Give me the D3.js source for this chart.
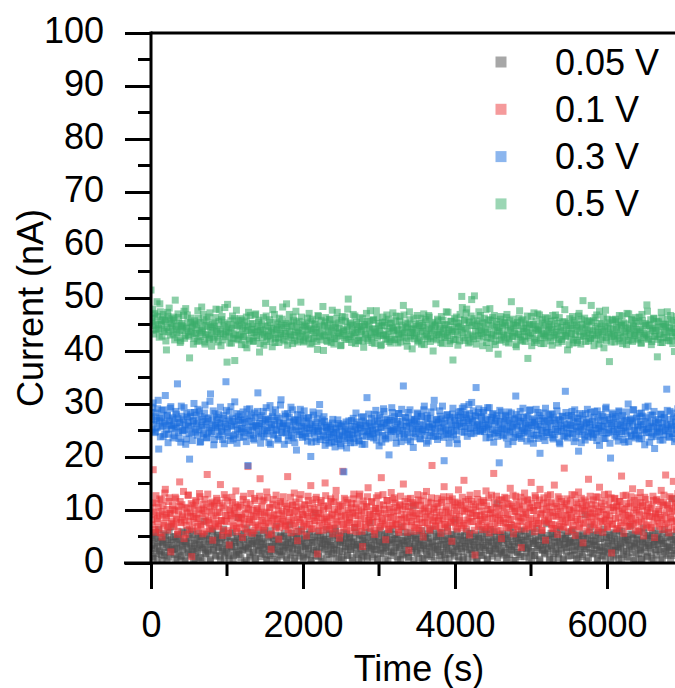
<!DOCTYPE html>
<html><head><meta charset="utf-8">
<script src="https://cdn.jsdelivr.net/npm/d3@7"></script>
<style>body{margin:0;background:#fff}svg{display:block}text{font-family:"Liberation Sans",Arial,sans-serif;fill:#000}</style>
</head><body>
<svg id="c" width="675" height="688"></svg>
<script>
// sampling: pass A every 14.5 s from 0 s, pass B every 14.5 s from 7.25 s
const timeStartA = 0, timeStartB = 7.25, timeStep = 14.5;
const seriesNames = ["0.05 V","0.1 V","0.3 V","0.5 V"];
const seriesColors = ["#505050","#ec3538","#1a6ddd","#38ad69"];
const xTicks = [0,2000,4000,6000];
const xMinor = [1000,3000,5000];
const yTicks = [0,10,20,30,40,50,60,70,80,90,100];
const yMinor = [5,15,25,35,45,55,65,75,85,95];

const current005 = [
2.4,4.8,0.9,3.6,5.7,1.8,3.1,6.3,2.2,4.1,0.5,3.8,1.4,5.2,2.9,4.4,1.1,3.3,6.8,2.6,
3.9,1.6,5.0,2.8,0.7,4.6,3.4,1.2,5.9,2.5,4.0,0.3,3.7,6.1,2.0,4.7,1.5,3.2,5.4,2.7,
0.8,4.3,2.3,5.6,3.5,1.0,4.9,2.6,7.9,3.0,1.7,5.1,2.1,4.5,0.4,3.6,6.0,2.4,4.2,1.3,
5.3,2.9,3.8,0.6,4.8,2.2,6.4,1.9,3.4,5.0,2.7,0.9,4.1,3.1,5.8,1.4,3.9,2.0,4.6,8.6,
1.6,3.3,5.5,2.5,4.4,0.2,3.0,6.6,2.8,4.0,1.1,5.2,3.6,2.1,4.7,0.8,3.9,5.7,2.4,3.2,
4.5,1.8,3.7,6.2,2.6,0.5,4.9,3.1,1.4,5.3,2.9,4.2,0.7,3.5,6.9,2.3,4.0,1.6,5.1,3.0,
2.2,5.6,3.4,1.0,4.6,2.8,7.2,3.8,1.9,5.0,0.4,3.3,4.8,2.5,6.0,1.3,4.1,3.6,0.9,5.4,
3.1,1.5,4.7,2.7,5.9,0.6,3.9,2.0,4.3,9.4,2.4,5.1,1.2,3.7,4.9,2.9,0.3,4.4,3.2,6.3,
4.0,2.1,5.5,3.3,1.7,4.8,2.6,6.5,0.8,3.5,5.2,2.3,4.1,1.0,3.8,5.7,2.7,4.5,1.4,3.0,
5.0,2.5,3.9,0.5,4.6,6.7,2.9,3.4,1.6,5.3,3.1,0.9,4.2,2.2,5.8,3.6,1.3,4.9,2.8,7.6,
3.7,1.1,4.4,2.6,5.6,3.2,0.7,4.0,6.2,2.4,3.9,1.8,5.1,2.9,4.7,0.4,3.5,5.9,2.1,4.3,
1.9,5.4,3.0,4.6,0.6,3.8,2.5,6.8,1.5,4.2,3.3,5.0,2.0,4.8,1.2,3.6,5.7,2.7,10.8,3.1,
4.5,2.3,5.2,1.0,3.9,2.8,6.1,3.4,0.8,4.7,2.2,5.5,3.7,1.6,4.1,2.9,6.4,0.5,3.2,5.0,
2.6,4.9,1.4,3.5,5.8,2.1,4.3,0.9,3.0,6.6,2.4,4.6,1.7,3.8,5.3,2.0,8.1,3.3,4.4,1.2,
3.6,5.1,2.7,0.6,4.2,3.1,6.0,1.9,4.8,2.5,3.9,5.6,1.1,3.4,4.5,2.2,0.3,5.3,3.0,4.0,
1.5,4.7,2.9,5.9,3.3,0.8,4.1,2.3,6.3,3.7,1.3,5.0,2.6,4.4,11.2,3.2,1.8,4.9,2.4,5.5,
3.8,2.0,4.6,1.0,5.4,3.0,6.7,2.5,4.0,0.5,3.5,5.2,2.1,4.8,1.6,3.9,6.1,2.8,4.3,1.2,
5.0,2.7,3.4,0.9,4.5,2.2,5.8,3.7,1.4,4.2,6.5,2.9,3.3,0.4,5.1,2.4,4.7,1.9,3.6,7.4,
2.3,4.4,1.1,5.6,3.2,0.7,4.9,2.6,6.0,3.9,1.7,4.1,2.8,5.3,0.6,3.5,4.6,2.1,5.7,3.0,
4.3,1.4,3.8,6.2,2.5,4.7,0.8,3.3,5.1,2.0,4.0,1.6,5.5,3.1,9.1,2.7,4.5,1.0,3.6,6.8,
2.9,5.2,1.8,4.1,3.4,0.5,5.8,2.3,4.6,3.0,1.3,6.4,2.6,4.9,1.9,3.7,5.4,0.7,4.2,2.4,
5.7,3.1,1.5,4.4,2.8,6.1,3.5,0.9,4.8,2.2,5.0,3.9,1.2,4.3,2.6,7.0,3.2,5.3,0.4,3.8,
1.7,4.5,3.0,5.9,2.4,0.8,4.0,6.6,2.9,3.6,1.1,5.2,3.3,4.7,2.0,5.6,0.6,3.9,2.5,4.6,
3.4,5.5,2.1,4.2,0.9,3.7,6.3,2.7,4.8,1.4,3.1,5.0,2.3,12.1,4.4,1.8,3.8,5.9,2.6,4.1];
const current005b = [
3.3,1.2,4.6,2.7,5.1,0.8,3.9,2.3,4.8,1.6,3.5,5.5,2.0,4.2,0.6,3.0,5.8,1.9,4.4,2.5,
4.9,2.6,0.9,3.8,5.3,2.1,4.4,1.4,3.2,5.7,0.5,4.0,2.8,1.7,4.7,3.4,6.0,2.2,0.8,3.7,
2.0,4.6,3.3,1.1,5.0,2.9,0.4,4.3,3.6,1.8,5.4,2.4,4.1,0.7,3.5,6.2,2.6,4.8,1.5,3.9,
5.2,3.0,1.3,4.5,2.5,5.9,0.9,3.7,2.2,4.9,1.4,3.4,5.6,2.8,0.6,4.2,3.1,1.7,5.0,2.3,
3.8,1.0,4.7,2.4,5.5,3.2,0.5,4.4,2.7,1.5,5.8,3.6,2.0,4.1,0.8,3.3,5.3,2.5,4.6,1.2,
4.0,2.9,5.7,1.6,3.5,0.7,4.8,2.2,6.1,3.1,1.8,4.5,2.6,5.2,0.4,3.8,2.1,4.9,1.3,3.4,
5.1,2.4,3.9,0.6,4.3,3.0,1.5,5.6,2.7,4.1,0.9,3.6,5.0,1.9,4.6,2.3,6.3,3.2,1.1,4.4,
2.8,4.7,1.7,3.3,5.4,0.5,3.9,2.5,4.9,1.4,3.0,5.9,2.1,4.2,0.8,3.6,5.1,2.6,4.5,1.6,
3.5,0.7,4.1,2.9,5.3,1.9,3.4,6.0,2.4,4.6,1.1,3.8,5.0,2.2,0.6,4.3,3.1,5.5,1.5,3.7,
4.8,2.6,1.0,4.0,3.2,5.7,1.8,3.5,0.5,4.5,2.7,5.2,1.3,3.9,2.1,4.7,0.9,3.3,5.9,2.4,
3.0,5.0,1.6,4.3,2.5,0.8,4.9,3.6,1.9,5.4,2.8,4.1,0.6,3.2,5.6,2.2,4.4,1.4,3.8,6.4,
2.3,4.6,3.4,1.2,5.3,2.9,0.7,4.2,3.7,1.7,5.8,2.6,4.0,1.0,3.5,5.1,2.0,4.8,0.5,3.1,
4.4,1.8,3.6,5.5,2.4,4.1,0.9,3.3,5.0,2.7,1.5,4.7,3.0,6.1,1.2,3.9,2.5,5.3,1.9,4.2,
3.2,5.7,2.1,0.6,4.5,3.5,1.6,5.1,2.8,4.0,0.8,3.7,5.4,2.3,4.6,1.3,3.1,5.9,2.6,0.4,
4.9,2.2,3.8,1.1,5.2,3.0,4.3,0.7,3.6,5.6,2.5,1.7,4.1,2.9,5.0,0.9,3.4,4.7,2.0,6.2,
3.3,1.4,4.5,2.6,5.5,0.6,3.9,2.3,4.8,1.8,3.2,5.9,2.7,4.0,1.0,3.6,5.3,2.1,4.4,1.5,
5.1,2.8,0.8,4.2,3.5,1.6,4.9,2.4,5.8,3.1,0.5,4.6,2.0,3.8,5.4,1.2,4.3,2.9,6.0,3.4,
1.9,4.7,3.0,5.6,2.2,0.9,4.1,3.7,1.4,5.0,2.6,4.4,0.7,3.3,5.7,2.5,4.0,1.7,3.6,5.2,
2.7,0.6,4.5,3.2,5.5,1.8,3.9,2.1,4.8,1.0,3.4,6.3,2.4,4.6,0.8,3.7,5.0,2.9,1.3,4.2,
3.8,5.9,2.3,4.0,1.5,3.1,5.3,0.7,4.4,2.8,3.6,1.2,5.1,2.6,4.7,0.4,3.5,5.7,2.0,4.3,
1.7,4.1,3.3,5.4,2.5,0.9,4.6,3.0,1.4,5.8,2.2,3.9,0.6,4.8,3.2,1.9,5.2,2.7,4.0,1.1,
4.5,2.4,5.6,3.1,0.8,4.2,2.9,6.0,1.6,3.7,5.0,2.3,4.4,1.0,3.4,5.5,2.0,4.7,3.2,0.5,
3.6,5.3,1.8,4.3,2.6,0.7,3.9,5.7,2.1,4.6,1.3,3.3,5.1,2.8,0.9,4.0,3.5,6.1,1.5,4.9,
2.5,4.4,0.6,3.7,5.5,2.2,4.1,1.7,3.0,5.8,2.9,0.8,4.5,3.4,1.4,5.2,2.4,4.0,6.2,3.1];

const current01 = [
10.4,7.2,17.6,9.1,5.8,11.3,8.4,6.6,12.1,9.7,4.9,10.8,7.5,13.9,8.9,6.2,11.6,9.3,2.1,7.9,
10.1,6.9,12.4,8.2,5.4,9.8,15.3,7.6,11.0,8.7,4.6,10.5,7.1,9.4,12.8,6.3,8.8,1.2,10.9,7.7,
9.2,11.5,6.0,8.5,13.1,7.3,10.2,5.5,9.9,12.0,7.8,16.7,8.1,6.5,11.2,9.5,4.3,10.7,7.4,8.9,
11.8,6.8,9.6,14.8,8.0,5.2,10.4,7.9,12.3,9.0,6.1,3.4,10.0,8.4,11.4,7.0,9.3,13.6,5.9,8.6,
10.6,7.5,9.1,4.8,12.6,8.3,6.4,10.3,18.2,7.8,11.1,9.0,5.6,8.7,12.2,7.2,10.0,6.7,9.6,15.9,
8.0,11.7,6.2,9.4,7.6,13.4,8.9,5.3,10.5,2.6,7.9,12.0,9.2,6.6,10.8,8.3,4.5,11.3,7.4,9.8,
12.5,8.1,6.9,10.2,16.3,7.7,9.5,5.7,11.0,8.6,13.2,7.0,9.9,4.2,10.6,8.2,12.9,6.0,9.1,7.5,
10.9,5.1,8.8,11.8,7.3,14.6,9.6,6.5,10.1,8.0,12.4,1.7,9.3,7.1,11.4,8.5,6.2,10.7,15.1,8.7,
7.8,10.3,6.4,12.1,9.0,5.5,11.5,8.3,13.7,7.2,9.7,4.7,10.8,8.1,17.3,6.8,9.4,11.9,7.6,10.0,
8.6,6.1,11.2,9.5,13.0,7.4,10.4,5.9,8.9,12.6,7.0,9.8,3.1,11.1,8.4,6.7,10.6,14.2,7.9,9.2,
11.6,7.7,9.9,5.4,10.3,8.8,12.7,6.6,9.4,16.1,8.0,10.9,7.2,4.4,11.8,8.7,6.3,10.1,13.3,7.5,
9.6,12.3,7.3,10.5,8.2,5.8,11.0,9.1,6.9,14.9,8.5,10.7,7.8,12.1,2.4,9.7,7.1,11.4,8.9,6.0,
10.8,8.3,12.9,6.5,9.3,11.7,7.6,4.9,10.2,8.6,13.5,7.4,9.8,6.2,11.3,18.4,8.1,10.4,7.0,9.5,
12.2,7.9,9.0,5.6,11.9,8.4,14.4,7.2,10.6,6.8,9.6,12.5,8.0,4.1,10.9,7.7,11.5,9.2,6.4,13.8,
8.7,11.1,6.6,9.9,15.6,7.5,10.3,8.1,12.0,5.3,9.4,11.6,7.8,10.0,1.5,8.9,13.1,6.9,10.7,8.2,
9.8,6.3,11.4,8.6,13.6,7.0,10.1,5.7,9.3,12.8,8.4,16.9,7.4,10.5,6.1,9.1,11.9,8.0,4.6,10.8,
7.6,12.4,9.5,6.7,11.2,8.3,14.1,7.1,10.3,5.5,9.7,12.6,8.8,6.4,11.0,7.9,2.9,10.6,8.5,13.2,
9.2,6.8,11.8,8.1,10.4,15.2,7.3,9.9,5.9,12.3,8.6,10.9,7.5,13.9,9.4,6.2,11.3,8.0,4.3,10.2,
12.7,7.7,9.6,11.5,6.5,8.9,14.7,7.2,10.7,5.4,9.1,12.1,8.4,6.9,10.5,17.9,7.8,11.2,9.0,6.0,
10.0,8.5,12.9,7.1,9.8,5.2,11.4,8.2,13.4,6.6,10.3,9.3,3.8,11.9,7.6,10.8,8.7,15.8,6.3,9.5,
11.1,7.4,10.2,8.8,12.5,6.1,9.7,14.3,7.9,10.6,5.8,8.3,11.7,9.1,6.7,13.0,8.0,10.4,1.9,7.3,
9.9,12.2,6.4,10.9,8.6,11.6,7.0,16.4,9.4,5.6,10.1,12.8,7.7,9.0,6.9,11.3,8.4,14.0,7.5,10.5,
8.1,11.0,6.0,9.6,13.3,7.8,10.7,5.1,12.4,8.9,9.9,7.2,15.0,10.3,6.6,8.7,11.8,4.8,9.3,12.0,
7.4,10.1,8.6,13.7,6.3,11.4,9.0,16.6,7.7,10.8,5.7,12.5,8.3,9.7,15.4,6.8,11.1,8.0,13.1,9.5];
const current01b = [
8.2,11.4,9.6,6.3,12.7,7.8,10.5,8.9,5.7,11.9,9.2,7.1,13.2,8.6,10.1,6.8,12.3,9.4,7.5,10.8,
7.3,9.9,12.1,8.5,6.0,10.7,11.6,7.7,9.1,13.5,8.1,5.4,10.3,12.8,7.9,9.6,11.2,6.6,8.8,10.4,
11.8,8.4,6.9,10.0,12.5,7.2,9.3,11.1,5.9,8.7,10.6,13.0,7.6,9.8,6.4,11.5,8.3,10.9,7.0,12.2,
9.5,7.4,11.3,8.0,10.8,6.2,12.9,9.0,7.8,11.7,5.6,10.2,8.9,12.4,7.1,9.7,11.0,6.5,10.5,8.4,
6.7,10.9,8.6,12.0,7.3,9.4,11.4,5.8,10.1,8.2,13.1,7.6,9.9,6.1,11.8,8.8,10.3,7.0,12.6,9.2,
10.6,8.0,11.9,6.8,9.6,12.3,7.5,10.4,8.5,5.5,11.1,9.0,7.2,12.8,8.3,10.0,6.6,11.6,9.3,7.8,
8.9,11.2,7.0,10.7,6.3,9.5,12.4,8.1,10.9,7.4,9.8,11.5,5.9,8.6,12.1,7.7,10.2,9.1,6.9,11.0,
9.6,7.2,12.6,8.4,10.3,6.4,11.3,9.0,7.9,12.0,8.6,10.5,6.1,9.4,11.8,7.5,10.0,8.2,12.7,6.8,
10.8,8.5,7.1,11.6,9.2,6.6,10.1,12.4,7.8,9.5,11.0,5.7,8.8,10.7,7.3,12.2,9.0,6.3,11.4,8.1,
7.6,10.4,9.3,12.1,6.7,8.9,11.2,7.4,10.0,13.0,8.3,6.0,11.7,9.6,7.2,10.6,12.5,8.0,9.1,6.5,
11.5,8.7,6.2,10.3,12.3,7.7,9.7,11.0,6.9,8.4,12.9,10.1,7.5,9.3,11.8,6.4,10.5,8.6,7.1,12.0,
8.8,11.3,7.4,9.9,6.3,10.8,12.6,8.2,10.2,7.0,11.6,9.1,5.8,10.6,8.5,12.2,7.8,9.5,11.1,6.7,
9.4,7.2,11.9,8.3,10.9,6.1,9.8,12.7,7.6,10.4,8.8,11.5,6.5,9.2,12.3,7.9,10.1,8.6,6.9,11.2,
10.7,8.1,6.6,11.4,9.6,12.5,7.3,10.0,8.7,6.0,11.8,9.3,7.7,12.1,8.4,10.5,6.8,9.9,11.3,7.5,
8.0,10.9,12.4,7.1,9.7,11.6,6.4,10.2,8.5,12.8,7.8,9.4,11.1,6.2,10.6,8.9,12.0,7.4,9.0,11.5,
7.9,11.8,9.2,6.7,10.8,8.3,12.3,7.0,10.1,9.5,6.3,11.4,8.7,12.6,7.6,10.3,9.0,6.1,11.9,8.4,
10.4,7.5,12.2,9.1,6.6,11.0,8.2,10.7,12.8,7.2,9.8,11.5,6.9,8.6,10.2,12.4,7.8,9.3,11.7,6.4,
9.6,12.0,7.1,10.5,8.4,11.3,6.8,9.9,12.7,8.0,10.8,7.4,11.9,9.2,6.2,10.1,12.3,7.7,9.0,11.4,
8.3,10.6,12.9,7.3,9.5,6.5,11.2,8.8,10.3,12.5,7.0,9.7,11.6,8.1,6.7,10.9,9.1,12.1,7.6,10.0,
11.7,8.6,6.3,10.4,12.8,7.9,9.4,11.1,6.9,8.2,12.2,10.6,7.4,9.9,11.5,6.0,10.2,8.7,12.6,7.7,
9.3,11.9,7.2,10.8,8.5,12.4,6.6,9.6,11.3,7.8,10.1,12.9,8.0,9.2,6.8,11.0,8.9,12.3,7.4,10.5,
12.1,8.4,10.7,6.5,9.8,11.6,7.6,10.3,12.7,8.1,9.0,11.2,6.9,10.6,8.7,12.5,7.3,9.4,11.8,6.2,
10.0,12.3,7.7,9.1,11.4,6.4,10.8,8.3,12.0,7.0,9.6,11.1,8.8,6.7,10.5,12.6,7.9,9.2,11.7,8.5,
9.7,6.9,11.5,8.2,10.9,12.8,7.4,9.5,11.0,6.6,10.3,8.6,12.2,7.8,9.9,11.3,6.3,10.6,8.0,12.4];

const current03 = [
28.4,25.1,30.2,27.6,24.8,26.9,29.1,21.5,27.3,25.7,28.8,23.9,26.4,31.6,25.2,27.9,24.3,26.8,29.5,25.9,
23.6,27.2,25.4,28.1,33.8,24.7,26.5,22.8,27.7,25.0,29.3,26.1,23.4,27.5,25.8,19.6,28.4,24.5,26.7,30.1,
25.3,27.9,24.1,26.6,28.7,22.9,25.9,27.1,24.4,29.8,26.2,23.7,27.4,25.5,31.9,24.8,26.9,22.3,28.2,25.6,
27.0,24.2,26.3,29.4,25.1,23.3,27.8,25.7,34.2,24.6,26.8,28.5,23.1,25.9,27.3,24.0,30.4,26.1,22.6,27.6,
25.4,28.0,24.9,26.5,23.8,27.2,25.3,29.0,18.4,26.7,24.3,27.9,25.6,23.5,28.3,26.0,24.7,32.1,25.8,27.4,
23.9,26.3,28.6,25.0,27.1,24.4,26.9,22.7,29.7,25.5,27.6,24.1,26.2,28.9,25.2,23.2,27.3,25.9,30.8,24.6,
26.4,22.4,27.7,25.3,28.2,24.0,26.6,29.4,25.1,23.6,27.0,25.7,21.3,28.0,24.8,26.5,27.8,24.2,25.9,28.7,
24.5,26.8,23.0,27.4,25.4,20.1,26.1,28.5,24.7,25.8,22.9,27.2,25.0,29.9,23.8,26.4,24.9,27.6,22.2,25.6,
23.7,26.0,24.3,25.2,22.8,27.1,24.6,21.9,25.5,23.4,26.3,24.1,22.5,25.8,23.9,17.2,24.8,26.6,23.1,25.3,
24.2,22.7,26.9,24.9,23.5,25.7,28.3,24.4,26.1,23.0,25.4,27.5,24.0,26.8,22.4,25.9,31.2,24.7,26.4,23.8,
27.3,25.0,23.6,26.7,28.8,24.5,26.2,22.1,27.9,25.6,24.1,29.1,26.5,23.4,27.0,25.2,20.4,26.9,24.8,28.4,
25.1,27.6,23.7,26.3,24.9,28.2,25.5,22.9,26.8,33.4,24.3,27.4,25.8,23.2,26.6,28.9,24.6,25.9,21.8,27.1,
24.4,26.7,28.1,25.3,23.5,27.7,24.8,26.0,29.6,25.2,22.6,27.3,25.7,24.1,28.5,26.2,23.9,30.7,25.4,27.0,
23.3,26.4,28.7,24.9,27.2,25.6,19.3,26.8,24.2,28.0,25.1,27.5,23.8,26.1,29.2,24.7,26.9,25.0,22.5,27.8,
26.3,28.6,24.7,27.4,29.5,25.8,27.9,23.9,26.6,28.2,25.4,30.3,26.9,24.5,27.7,33.1,25.9,28.4,26.2,24.8,
27.5,25.2,28.8,26.0,23.6,27.1,25.7,29.3,24.3,26.9,28.0,22.8,26.4,25.0,27.8,24.6,18.9,26.7,28.5,25.3,
24.0,26.6,27.9,25.1,22.4,26.9,24.7,28.3,25.6,23.7,27.2,31.5,25.9,24.2,26.8,28.6,23.5,25.4,27.4,24.9,
26.2,23.0,27.7,25.5,28.9,24.4,26.5,22.6,27.0,25.8,24.1,28.4,26.1,20.7,27.3,25.0,23.8,26.7,29.2,24.6,
25.7,27.9,24.2,26.4,28.1,23.4,26.9,25.2,29.7,24.8,27.1,22.5,25.9,27.6,24.0,26.3,32.4,25.5,23.6,27.8,
24.5,26.0,28.6,25.3,22.9,27.4,24.9,26.7,21.1,28.2,25.6,24.3,27.0,25.8,23.2,26.5,29.0,24.7,26.2,28.4,
25.0,23.7,27.5,26.1,24.4,28.7,25.4,22.2,26.8,24.9,27.7,25.7,23.5,29.4,26.3,24.6,27.1,19.8,25.9,28.0,
26.6,24.1,27.3,25.2,23.0,28.5,26.0,24.8,27.8,25.5,22.8,26.9,24.5,30.0,25.8,27.2,23.9,26.4,28.9,25.1,
24.3,27.6,25.9,23.4,26.7,28.3,24.9,26.2,22.3,27.4,25.3,29.6,24.6,26.5,23.8,27.9,25.6,21.6,26.8,24.7,
27.1,25.4,23.2,28.0,26.3,24.2,27.5,25.0,32.8,26.1,23.9,28.6,25.7,24.4,27.3,22.9,26.6,25.2,29.1,24.8];
const current03b = [
27.1,29.4,26.2,24.6,28.3,25.5,30.7,26.8,23.8,27.5,25.9,28.9,24.3,26.6,27.8,22.7,26.0,29.2,25.3,27.4,
26.1,24.0,28.6,25.7,27.3,23.5,26.4,29.6,24.9,27.0,25.2,22.4,28.1,26.5,24.4,27.7,25.8,23.1,26.9,28.4,
24.7,26.3,29.0,25.1,22.8,27.6,25.6,24.2,28.3,26.7,23.6,27.2,25.0,30.5,24.5,26.1,28.7,23.3,25.9,27.5,
25.5,28.0,23.9,26.5,24.8,27.3,22.5,26.2,28.8,25.4,24.0,27.1,29.5,25.8,23.4,26.7,24.3,28.2,25.1,26.9,
23.7,27.0,25.3,28.5,24.6,26.4,22.9,27.7,25.0,29.1,24.1,26.8,25.7,23.2,27.4,25.9,28.6,24.4,26.3,22.6,
27.8,25.2,23.8,26.6,29.3,24.9,27.2,25.6,22.4,26.1,28.4,24.3,26.9,25.0,27.6,23.5,26.4,29.8,24.7,25.8,
26.3,28.1,24.5,25.9,23.1,27.5,25.3,24.0,28.9,26.6,22.7,27.0,25.1,26.8,24.2,29.0,25.7,23.7,27.3,25.4,
23.9,25.6,27.4,24.4,26.2,22.8,25.0,27.9,23.6,26.5,24.8,25.3,28.3,23.3,25.8,27.0,24.1,26.7,23.2,25.5,
24.9,22.6,25.7,23.8,26.4,24.2,22.9,25.3,24.6,27.0,23.3,25.9,22.1,24.7,26.2,23.5,25.1,21.7,24.4,26.8,
23.6,25.8,24.1,27.3,22.7,25.2,26.6,24.5,23.1,26.0,25.5,22.4,27.6,24.8,26.3,23.9,25.0,28.1,24.3,25.7,
26.0,24.4,28.0,25.3,23.2,26.8,24.7,27.4,25.6,22.8,26.3,28.6,24.0,25.9,27.2,23.6,26.5,24.9,29.3,25.1,
27.0,25.5,22.6,26.7,28.2,24.3,26.1,29.0,25.0,23.7,27.5,25.8,24.5,28.4,26.4,22.9,27.1,25.3,23.8,26.9,
25.7,28.3,24.8,26.2,23.4,27.6,25.1,28.9,24.1,26.5,27.8,23.0,25.6,27.3,24.6,26.0,29.4,25.2,23.9,27.1,
26.6,24.0,27.7,25.4,29.6,23.7,26.3,25.0,27.9,24.4,22.6,26.8,25.5,28.1,24.2,27.4,25.9,23.3,26.1,28.5,
27.4,25.8,29.2,26.5,24.7,28.0,26.9,25.3,29.9,27.2,24.4,26.6,28.7,25.6,27.8,24.9,26.2,29.1,25.0,27.6,
26.3,28.4,24.8,27.0,25.5,29.3,26.1,23.7,27.5,25.2,28.2,24.5,26.8,27.3,23.9,26.0,28.8,25.4,24.2,27.2,
25.3,27.7,23.6,26.4,28.5,24.9,25.8,27.1,22.9,26.2,24.3,28.0,25.6,27.4,23.8,26.7,25.0,29.2,24.5,26.3,
27.5,24.7,26.0,28.8,23.4,25.9,27.2,24.1,26.6,29.0,25.2,23.5,27.8,25.7,24.4,26.9,28.3,23.1,25.5,27.0,
24.6,26.8,28.1,25.1,23.7,27.5,24.2,26.3,28.7,25.6,22.8,26.9,24.9,27.7,25.3,23.9,28.4,26.1,24.5,27.2,
25.9,27.8,24.3,26.5,28.9,23.6,25.7,27.3,24.8,26.1,22.7,27.9,25.2,24.0,28.2,26.4,23.8,27.1,25.5,24.4,
26.7,24.2,28.6,25.4,23.1,27.4,26.0,24.7,28.0,25.8,23.5,26.9,29.1,24.5,27.5,25.1,22.6,26.3,28.3,24.8,
25.3,27.6,23.8,26.2,28.7,24.4,25.9,27.2,23.3,26.6,24.9,28.5,25.7,22.9,27.0,24.1,26.8,28.9,25.0,23.6,
27.3,25.6,24.0,28.2,26.1,23.5,27.7,25.2,29.4,24.6,26.7,25.4,22.8,27.9,25.8,24.3,28.6,26.4,23.9,25.1,
26.5,24.7,28.1,25.6,23.2,27.4,24.9,26.2,28.8,25.3,23.7,27.1,25.8,24.4,28.3,26.0,23.4,27.6,25.1,26.9];

const current05 = [
51.5,46.2,44.8,47.1,45.3,43.9,46.5,44.2,48.9,45.7,42.8,46.9,44.1,45.5,40.2,47.3,43.6,45.9,44.4,46.1,
43.2,45.8,49.6,44.7,42.5,46.3,43.8,41.9,45.2,44.6,47.5,42.9,44.3,46.8,43.1,38.7,45.4,43.7,44.9,42.4,
45.1,43.4,41.8,46.2,44.0,42.7,48.3,43.5,45.6,41.3,44.8,43.0,46.4,42.2,44.5,40.9,43.9,45.3,42.6,47.9,
44.2,41.7,47.8,43.3,45.9,42.1,44.7,48.2,43.6,37.9,45.0,42.8,44.4,41.5,46.6,43.2,38.2,44.9,42.3,45.7,
43.0,46.1,41.2,44.3,42.7,45.5,43.8,40.6,44.6,42.0,46.7,43.4,45.2,41.9,44.1,47.0,42.5,43.7,45.8,41.4,
44.0,42.6,46.3,43.1,49.0,41.8,44.7,42.9,45.4,43.5,40.8,44.2,46.9,42.4,43.9,45.1,41.6,44.5,43.0,46.0,
42.2,44.8,43.3,48.9,41.1,45.6,43.7,42.5,44.9,46.4,42.0,43.6,45.3,41.7,44.4,42.8,49.2,43.2,45.0,41.9,
44.6,43.0,46.2,42.3,44.1,45.7,41.5,43.8,42.7,45.2,44.0,40.3,46.5,43.4,42.1,44.7,48.4,42.9,45.5,43.6,
41.8,44.3,46.0,42.6,43.9,45.1,41.3,44.8,42.4,47.3,43.5,44.2,41.0,45.8,42.9,43.7,46.4,42.2,44.5,49.8,
43.1,45.3,41.6,44.0,42.8,46.6,43.4,45.0,41.9,44.6,42.5,43.8,46.1,40.7,44.9,43.2,45.6,42.0,44.3,47.6,
42.7,44.1,45.9,41.4,43.6,46.3,42.9,44.7,43.3,41.2,45.4,43.0,44.8,42.3,46.8,43.7,41.8,45.2,42.6,44.4,
43.9,42.2,45.7,44.5,41.5,43.1,46.5,42.8,44.0,48.6,43.4,45.3,41.9,44.6,42.4,45.9,43.5,40.4,44.2,42.9,
45.0,43.3,41.7,44.8,42.5,46.2,43.8,44.4,41.2,45.5,43.0,42.3,46.7,44.1,42.7,45.1,40.0,43.6,44.9,42.1,
46.0,43.5,44.7,41.6,43.2,45.8,42.6,44.3,47.4,42.9,44.0,41.4,45.6,43.7,38.3,44.5,42.2,46.4,43.1,45.2,
41.9,44.6,50.3,43.4,45.9,42.0,47.2,44.2,41.5,45.4,43.0,49.7,42.7,46.1,44.8,41.3,45.7,43.8,42.4,46.7,
44.0,41.0,45.3,43.6,47.8,42.5,44.9,40.5,45.8,43.2,46.3,41.8,44.4,42.9,45.6,39.4,43.7,46.0,42.2,44.7,
43.0,45.4,41.7,46.9,43.9,42.3,44.5,49.3,42.8,45.1,43.4,41.2,44.8,42.6,46.2,43.1,45.7,41.9,44.2,42.7,
45.3,43.6,38.6,44.9,42.4,46.5,43.3,45.0,41.6,44.3,42.0,47.0,43.8,44.6,41.4,45.9,43.2,42.8,46.3,44.0,
42.5,44.7,43.4,45.6,41.1,44.1,42.9,46.8,43.5,45.2,42.2,48.8,44.4,41.8,43.0,45.5,42.7,44.8,40.2,43.9,
46.1,42.6,44.3,41.5,45.8,43.1,44.9,42.0,46.6,43.7,41.3,45.0,49.5,42.8,44.5,43.3,45.7,41.9,44.0,42.4,
45.4,43.8,41.0,46.3,42.9,44.6,43.2,47.5,42.1,45.1,43.6,40.6,44.7,42.5,46.0,43.4,38.0,44.2,42.8,45.8,
43.0,41.7,45.5,44.1,42.3,46.7,43.5,44.9,41.4,45.3,42.7,43.9,47.1,42.0,44.4,43.1,45.9,41.8,44.6,42.9,
45.2,43.6,42.1,46.4,44.0,41.5,45.7,43.3,42.6,44.8,48.7,42.4,45.0,43.7,41.2,44.3,46.2,42.8,43.9,45.6,
42.2,44.5,43.0,47.3,41.6,45.1,43.4,44.7,42.5,46.0,43.8,41.9,45.4,42.7,44.2,39.9,43.5,46.5,42.0,44.8];
const current05b = [
45.6,47.9,43.2,46.8,44.1,49.3,45.0,42.6,47.4,44.9,46.0,43.7,45.8,41.9,44.4,46.6,48.1,43.0,45.2,44.7,
46.4,42.1,44.0,43.5,47.0,45.1,41.6,44.8,43.9,46.7,42.4,48.0,44.3,45.5,42.8,43.6,46.2,44.5,41.3,45.7,
43.3,44.9,47.6,42.0,45.4,43.8,44.2,46.9,41.7,43.1,45.9,44.6,42.5,47.2,43.4,45.0,42.2,44.7,46.3,43.7,
42.9,45.6,44.1,41.0,46.5,43.2,45.3,42.7,44.0,48.8,43.6,41.5,45.7,44.3,42.4,46.1,43.0,47.7,44.8,42.1,
44.5,43.1,45.8,42.6,44.9,41.2,46.4,43.9,47.3,42.3,45.1,44.0,41.8,43.5,46.8,42.9,44.6,45.4,39.8,43.8,
45.0,43.4,41.1,44.7,46.6,42.7,43.8,45.9,42.2,44.3,47.8,43.0,41.6,45.5,44.1,42.5,46.2,43.3,44.9,48.3,
43.6,41.9,45.2,44.4,42.8,46.9,43.1,44.6,41.4,45.7,42.9,47.5,44.0,43.4,45.6,42.1,46.4,43.8,41.7,44.8,
42.6,45.3,43.9,47.1,41.3,44.2,46.0,42.4,45.0,43.5,41.8,46.7,44.5,42.7,45.8,43.2,40.1,44.9,46.3,42.0,
44.7,43.0,45.9,41.6,47.7,43.6,42.3,44.4,46.1,42.8,45.3,43.3,41.1,46.5,44.0,42.5,45.6,43.9,47.9,42.2,
45.1,42.7,44.8,46.9,43.5,41.4,45.4,44.1,42.0,46.3,43.7,44.6,41.9,45.0,43.2,47.1,42.4,44.5,45.7,43.0,
41.6,45.8,43.4,44.2,47.6,42.6,45.2,43.9,41.0,44.7,46.4,42.9,45.5,43.1,42.2,46.0,44.3,41.5,45.3,47.2,
43.8,42.1,46.6,44.0,43.3,45.6,41.7,44.9,42.5,46.8,43.6,44.4,40.9,45.1,47.4,42.8,44.1,43.5,46.2,42.3,
44.6,46.7,42.0,45.2,43.7,41.3,44.8,47.0,42.7,45.9,43.2,44.3,46.4,41.8,43.9,45.4,42.4,44.7,48.9,43.1,
45.7,42.9,44.2,46.5,41.4,43.8,45.0,42.6,44.9,47.3,43.4,41.9,45.6,44.0,42.2,46.1,43.6,45.3,41.1,44.5,
46.9,43.9,48.2,42.5,45.8,44.3,47.9,43.0,45.5,41.7,46.6,44.8,42.3,50.4,43.7,45.1,42.9,47.4,44.6,43.3,
45.4,42.8,46.2,44.1,41.6,43.5,45.9,48.0,42.4,44.7,43.1,46.7,41.2,45.0,43.8,44.4,42.0,46.5,43.4,45.2,
42.6,44.9,46.3,43.0,41.5,45.7,44.2,42.7,46.0,43.6,44.8,40.8,45.4,43.2,47.6,42.1,44.5,45.9,43.7,41.8,
44.3,46.6,42.9,45.1,43.5,41.0,44.7,47.2,42.3,45.6,43.9,44.1,46.8,42.5,43.3,45.3,41.4,44.9,42.8,46.1,
43.7,45.0,41.9,44.4,46.7,42.6,45.8,43.1,44.6,41.5,46.3,43.8,42.2,45.5,44.0,47.8,42.9,43.4,45.2,41.2,
44.8,43.3,46.5,42.1,45.3,43.9,41.6,44.5,47.1,42.7,45.9,44.2,43.0,46.2,41.8,44.9,43.6,45.6,42.4,48.6,
43.1,45.7,42.3,44.3,46.8,43.5,41.3,45.2,44.0,42.6,46.4,43.8,47.7,42.0,44.6,45.3,43.2,41.7,45.9,44.1,
42.8,46.0,44.4,43.0,45.4,41.9,44.8,46.6,42.5,43.7,45.1,41.2,44.2,47.0,43.4,42.1,45.8,44.7,43.3,46.3,
44.0,42.4,45.6,43.6,41.5,46.9,44.5,42.9,45.2,43.1,47.5,42.2,44.8,45.9,41.8,43.9,46.1,42.7,44.3,38.9,
45.5,43.2,41.6,46.2,44.6,42.5,45.0,43.7,47.4,42.0,44.4,46.7,43.5,41.4,45.8,44.1,42.8,45.3,43.0,46.4];

const seriesValues = [[current005, current005b],[current01, current01b],[current03, current03b],[current05, current05b]];

const W = 675, H = 688;
const svg = d3.select("#c");
const x = d3.scaleLinear().domain([0, 7000]).range([151, 683]);
const y = d3.scaleLinear().domain([0, 100]).range([563, 33]);
const FS = 36;

// points
const ms = 7;
svg.append("clipPath").attr("id","pc").append("rect")
  .attr("x",151).attr("y",20).attr("width",W-151).attr("height",543);
const pg = svg.append("g").attr("clip-path","url(#pc)");
seriesValues.forEach((pair, si) => {
  const pts = [];
  pair[0].forEach((v,i) => pts.push({t: timeStartA + i*timeStep, v}));
  pair[1].forEach((v,i) => pts.push({t: timeStartB + i*timeStep, v}));
  pg.append("g").selectAll("rect").data(pts).join("rect")
    .attr("x", d => x(d.t) - ms/2)
    .attr("y", d => y(d.v) - ms/2)
    .attr("width", ms).attr("height", ms)
    .attr("fill", seriesColors[si]).attr("fill-opacity", 0.58);
});

// axes
const xAxis = d3.axisBottom(x).tickValues(xTicks).tickSize(26).tickPadding(12).tickFormat(d3.format("d"));
const gx = svg.append("g").attr("transform","translate(0,563)").call(xAxis);
gx.select(".domain").remove();
gx.selectAll("line").attr("stroke","#000").attr("stroke-width",3);
gx.selectAll(".tick text").attr("font-size",FS).attr("dy","0.71em").attr("y",48);
const gxm = svg.append("g").attr("transform","translate(0,563)");
gxm.selectAll("line").data(xMinor).join("line")
  .attr("x1",d=>x(d)).attr("x2",d=>x(d)).attr("y1",0).attr("y2",13)
  .attr("stroke","#000").attr("stroke-width",3);

const yAxis = d3.axisLeft(y).tickValues(yTicks).tickSize(26).tickPadding(21);
const gy = svg.append("g").attr("transform","translate(151,0)").call(yAxis);
gy.select(".domain").remove();
gy.selectAll("line").attr("stroke","#000").attr("stroke-width",3);
gy.selectAll("text").attr("font-size",FS).attr("dy","0.27em");
const gym = svg.append("g").attr("transform","translate(151,0)");
gym.selectAll("line").data(yMinor).join("line")
  .attr("y1",d=>y(d)).attr("y2",d=>y(d)).attr("x1",0).attr("x2",-13)
  .attr("stroke","#000").attr("stroke-width",3);

// frame lines
svg.append("line").attr("x1",151).attr("x2",151).attr("y1",31.5).attr("y2",564.5)
  .attr("stroke","#000").attr("stroke-width",3);
svg.append("line").attr("x1",124).attr("x2",W).attr("y1",563).attr("y2",563)
  .attr("stroke","#000").attr("stroke-width",3);
svg.append("line").attr("x1",151).attr("x2",W).attr("y1",33).attr("y2",33)
  .attr("stroke","#000").attr("stroke-width",3);

// axis titles
svg.append("text").attr("x",419).attr("y",681).attr("text-anchor","middle")
  .attr("font-size",FS).text("Time (s)");
svg.append("text").attr("transform","translate(43,308) rotate(-90)").attr("text-anchor","middle")
  .attr("font-size",FS).text("Current (nA)");

// legend
const lg = svg.append("g");
seriesNames.forEach((n, i) => {
  const cy = 62 + i*47.3;
  lg.append("rect").attr("x",495.5).attr("y",cy-5.5).attr("width",11).attr("height",11)
    .attr("fill",seriesColors[i]).attr("fill-opacity",0.5);
  lg.append("text").attr("x",555).attr("y",cy+12.5).attr("font-size",FS).text(n);
});
</script>
</body></html>
